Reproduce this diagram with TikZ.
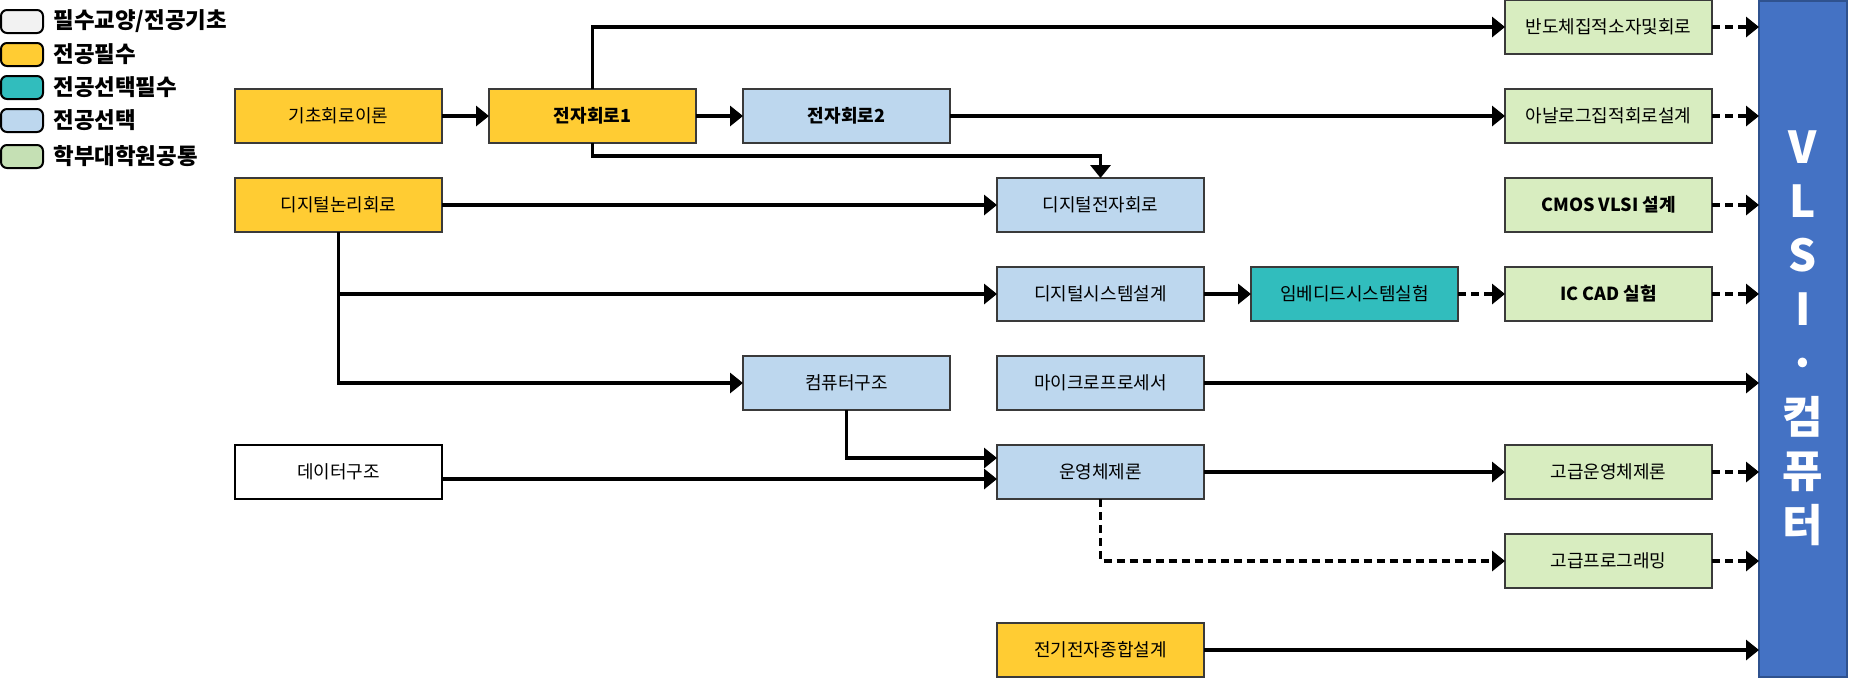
\documentclass[tikz,border=0pt]{standalone}
\usepackage{fontspec}
\setmainfont{Noto Sans CJK KR}
\usepackage{tikz}
\usetikzlibrary{arrows.meta, positioning}
\usepackage{xcolor}
\definecolor{basicgray}{HTML}{F2F2F2}
\definecolor{reqgold}{HTML}{FFCC33}
\definecolor{selreqteal}{HTML}{31BDBD}
\definecolor{selblue}{HTML}{BDD7EE}
\definecolor{gradgreen}{HTML}{D8EDC0}
\definecolor{leggreen}{HTML}{C5E0B4}
\definecolor{vlsiblue}{HTML}{4472C4}
\definecolor{vlsiedge}{HTML}{2F528F}
\definecolor{edgegray}{HTML}{3A3A3A}

\begin{document}
\begin{tikzpicture}[
x=0.5pt, y=-0.5pt,
node distance=17.5pt and 23.5pt,
box/.style={draw=edgegray,
line width=1pt,
rectangle,
minimum width=103.5pt,
minimum height=27pt,
inner sep=0pt,
outer sep=0pt,
font=\fontsize{9}{11}\selectfont,
align=center},
reqbox/.style={box, fill=reqgold},
selreqbox/.style={box, fill=selreqteal},
selbox/.style={box, fill=selblue},
gradbox/.style={box, fill=gradgreen},
basicbox/.style={box, draw=black, fill=white},
legbox/.style={draw=black,
line width=1pt,
rounded corners=3pt,
minimum width=21pt,
minimum height=11.5pt,
inner sep=0pt,
outer sep=0pt},
legtext/.style={font=\fontsize{11.2}{13}\selectfont\bfseries, inner sep=0pt},
arrow/.style={-{Triangle[length=6.5pt, width=10pt]}, line width=1.6pt},
dasharrow/.style={arrow, dash pattern=on 4pt off 2.5pt}
]

\useasboundingbox (0,0) rectangle (1850,677);

\node[legbox, fill=basicgray] (lg1) at (22,21.5) {};
\node[legbox, fill=reqgold, below=5pt of lg1] (lg2) {};
\node[legbox, fill=selreqteal, below=5pt of lg2] (lg3) {};
\node[legbox, fill=selblue, below=5pt of lg3] (lg4) {};
\node[legbox, fill=leggreen, below=6.5pt of lg4] (lg5) {};
\node[legtext, right=5pt of lg1] (lgt1) {필수교양/전공기초};
\node[legtext, right=5pt of lg2] (lgt2) {전공필수};
\node[legtext, right=5pt of lg3] (lgt3) {전공선택필수};
\node[legtext, right=5pt of lg4] (lgt4) {전공선택};
\node[legtext, right=5pt of lg5] (lgt5) {학부대학원공통};

\node[reqbox] (basic) at (338.5,116) {기초회로이론};
\node[reqbox, right=of basic, font=\fontsize{9}{11}\selectfont\bfseries] (elec1) {전자회로1};
\node[selbox, right=of elec1, font=\fontsize{9}{11}\selectfont\bfseries] (elec2) {전자회로2};
\node[reqbox, below=of basic] (logic) {디지털논리회로};
\node[selbox, right=277.5pt of logic] (digelec) {디지털전자회로};
\node[selbox, below=of digelec] (digsys) {디지털시스템설계};
\node[selreqbox, right=of digsys] (embedded) {임베디드시스템실험};
\node[gradbox, right=of embedded, font=\fontsize{9}{11}\selectfont\bfseries] (iccad) {IC CAD 실험};
\node[gradbox, above=of iccad, font=\fontsize{9}{11}\selectfont\bfseries] (cmos) {CMOS VLSI 설계};
\node[gradbox, above=of cmos] (analog) {아날로그집적회로설계};
\node[gradbox, above=of analog] (semi) {반도체집적소자및회로};
\node[selbox, below=of digsys] (micro) {마이크로프로세서};
\node[selbox, left=of micro] (comparch) {컴퓨터구조};
\node[selbox, below=of micro] (os) {운영체제론};
\node[basicbox, left=277.5pt of os] (datastruct) {데이터구조};
\node[gradbox, right=150.5pt of os] (advos) {고급운영체제론};
\node[gradbox, below=of advos] (advprog) {고급프로그래밍};
\node[reqbox, below=62pt of os] (capstone) {전기전자종합설계};

\node[draw=vlsiedge, line width=1pt, fill=vlsiblue, minimum width=44pt, minimum height=338pt, inner sep=0pt, outer sep=0pt, text=white, font=\fontsize{22}{27}\selectfont\bfseries, align=center] (vlsi) at (1803,338.5) {V\\L\\S\\I\\·\\컴\\퓨\\터};

\draw[arrow] (basic) -- (elec1);
\draw[arrow] (elec1) -- (elec2);
\draw[arrow] (elec1.north) |- (semi.west);
\draw[arrow] (elec1.south) -- ++(0,13) -| (digelec.north);
\draw[arrow] (elec2) -- (analog);
\draw[arrow] (logic) -- (digelec);
\draw[arrow] (logic.south) |- (digsys.west);
\draw[arrow] (logic.south) |- (comparch.west);
\draw[arrow] (digsys) -- (embedded);
\draw[dasharrow] (embedded) -- (iccad);
\draw[arrow] (comparch.south) |- ([yshift=7pt]os.west);
\draw[arrow] ([yshift=-3.5pt]datastruct.east) -- ([yshift=-3.5pt]os.west);
\draw[arrow] (os) -- (advos);
\draw[dasharrow] (os.south) |- (advprog.west);
\draw[arrow] (micro) -- (micro -| vlsi.west);
\draw[arrow] (capstone) -- (capstone -| vlsi.west);
\draw[dasharrow] (semi) -- (semi -| vlsi.west);
\draw[dasharrow] (analog) -- (analog -| vlsi.west);
\draw[dasharrow] (cmos) -- (cmos -| vlsi.west);
\draw[dasharrow] (iccad) -- (iccad -| vlsi.west);
\draw[dasharrow] (advos) -- (advos -| vlsi.west);
\draw[dasharrow] (advprog) -- (advprog -| vlsi.west);

\end{tikzpicture}
\end{document}
